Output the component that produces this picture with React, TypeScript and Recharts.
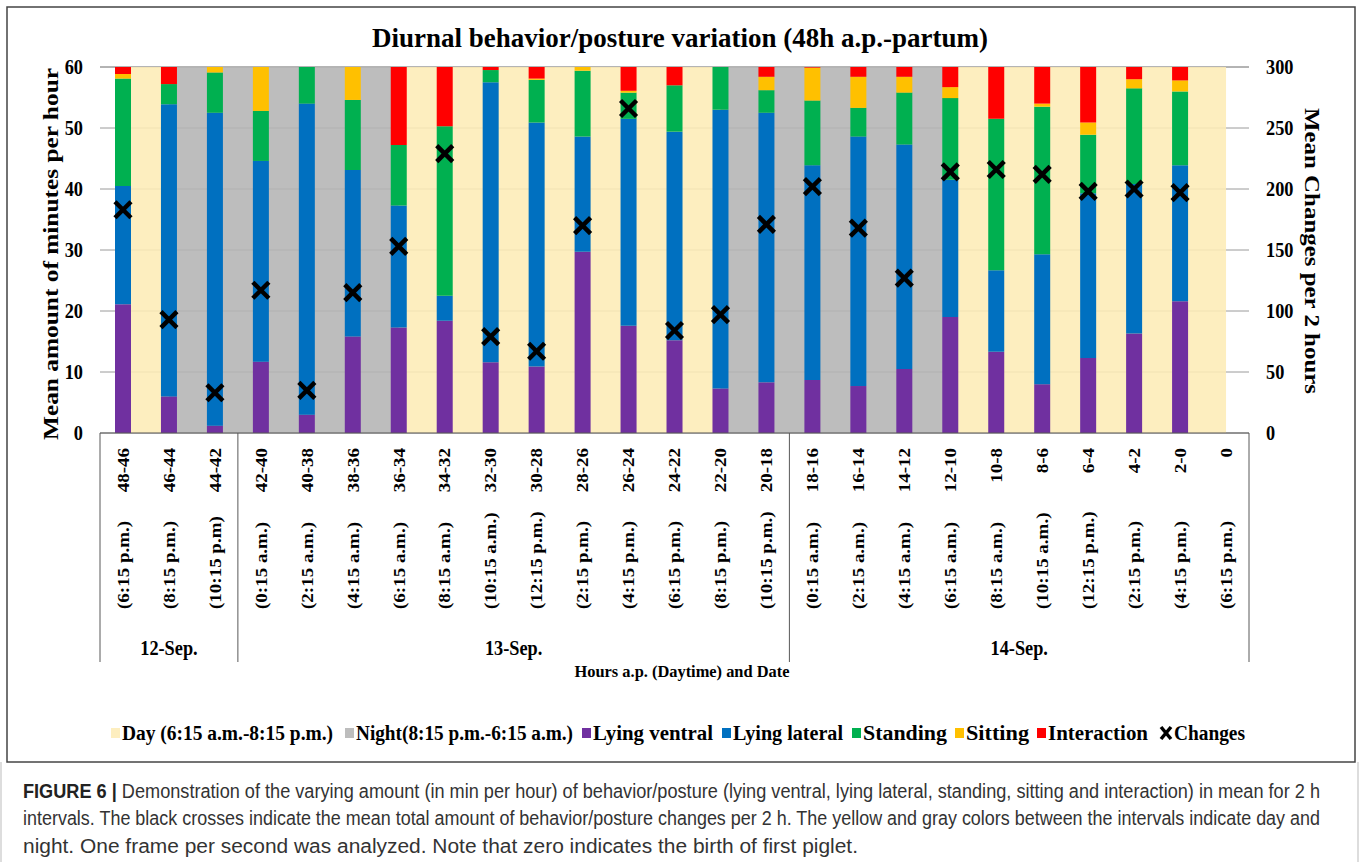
import React from 'react';
import {
  ComposedChart, Bar, Line, XAxis, YAxis, ReferenceArea, CartesianGrid,
} from 'recharts';

// 2h intervals before farrowing (last one = birth of first piglet)
const ranges = ['48-46', '46-44', '44-42', '42-40', '40-38', '38-36', '36-34', '34-32', '32-30', '30-28', '28-26', '26-24', '24-22', '22-20', '20-18', '18-16', '16-14', '14-12', '12-10', '10-8', '8-6', '6-4', '4-2', '2-0', '0'];
const times = ['(6:15 p.m.)', '(8:15 p.m.)', '(10:15 p.m)', '(0:15 a.m.)', '(2:15 a.m.)', '(4:15 a.m.)', '(6:15 a.m.)', '(8:15 a.m.)', '(10:15 a.m.)', '(12:15 p.m.)', '(2:15 p.m.)', '(4:15 p.m.)', '(6:15 p.m.)', '(8:15 p.m.)', '(10:15 p.m.)', '(0:15 a.m.)', '(2:15 a.m.)', '(4:15 a.m.)', '(6:15 a.m.)', '(8:15 a.m.)', '(10:15 a.m.)', '(12:15 p.m.)', '(2:15 p.m.)', '(4:15 p.m.)', '(6:15 p.m.)'];
const dates = ['12-Sep.', '13-Sep.', '14-Sep.'];
const dateCounts = [3, 12, 10];

const lyingVentral = [21.1, 6.0, 1.2, 11.7, 3.0, 15.8, 17.3, 18.4, 11.6, 10.9, 29.7, 17.6, 15.2, 7.3, 8.3, 8.7, 7.7, 10.5, 19.0, 13.3, 8.0, 12.3, 16.3, 21.6, null];
const lyingLateral = [19.4, 47.9, 51.3, 32.9, 51.0, 27.3, 20.0, 4.1, 45.9, 40.0, 18.9, 33.9, 34.2, 45.7, 44.2, 35.2, 40.9, 36.8, 22.5, 13.4, 21.3, 27.0, 24.5, 22.3, null];
const standing = [17.6, 3.3, 6.6, 8.2, 6.0, 11.5, 9.9, 27.8, 2.0, 7.0, 10.8, 4.3, 7.6, 7.0, 3.7, 10.6, 4.7, 8.5, 13.4, 24.8, 24.2, 9.6, 15.7, 12.1, null];
const sitting = [0.75, 0, 0.9, 7.2, 0, 5.4, 0, 0, 0, 0.2, 0.6, 0.3, 0, 0, 2.2, 5.4, 5.1, 2.6, 1.8, 0, 0.5, 2.0, 1.5, 1.8, null];
const interaction = [1.15, 2.8, 0, 0, 0, 0, 12.8, 9.7, 0.5, 1.9, 0, 3.9, 3.0, 0, 1.6, 0.1, 1.6, 1.6, 3.3, 8.5, 6.0, 9.1, 2.0, 2.2, null];
const changes = [183, 93, 33, 117, 35, 115, 153, 229, 79, 67, 170, 266, 84, 97, 171, 202, 168, 127, 214, 216, 212, 198, 200, 197, null];

// day / night shading for the span between two neighbouring intervals
const dayNight = ['day', 'night', 'night', 'night', 'night', 'night', 'day', 'day', 'day', 'day', 'day', 'day', 'day', 'night', 'night', 'night', 'night', 'night', 'day', 'day', 'day', 'day', 'day', 'day'];

const leftTicks = [0, 10, 20, 30, 40, 50, 60];
const rightTicks = [0, 50, 100, 150, 200, 250, 300];

const COLORS = {
  day: '#FDEEBF',
  night: '#BDBDBD',
  ventral: '#7030A0',
  lateral: '#0070C0',
  standing: '#00B050',
  sitting: '#FFC000',
  interaction: '#FF0000',
};
// shading is slightly see-through so the gridlines show faintly, like the original
const BAND_FILL = { day: '#FDECB6', night: '#B4B4B4' };
const BAND_OPACITY = 0.88;

const data = ranges.map((r, i) => ({
  idx: i,
  range: r,
  ventral: lyingVentral[i],
  lateral: lyingLateral[i],
  standing: standing[i],
  sitting: sitting[i],
  interaction: interaction[i],
  changes: changes[i],
}));

const CHART_W = 1360;
const CHART_H = 700;
const MARGIN = { top: 67, right: 81, bottom: 37, left: 70 };
const Y_AXIS_W = 30;
const X_AXIS_H = 230;
const PLOT_LEFT = MARGIN.left + Y_AXIS_W;
const PLOT_RIGHT = CHART_W - MARGIN.right - Y_AXIS_W;
const PLOT_BOTTOM = CHART_H - MARGIN.bottom - X_AXIS_H;
const BAND = (PLOT_RIGHT - PLOT_LEFT) / ranges.length;
const SERIF = '"Liberation Serif", "Times New Roman", serif';
const SANS = '"Liberation Sans", Arial, sans-serif';
const SQUISH = 0.87;

const groupStarts = dateCounts.map((_, g) => dateCounts.slice(0, g).reduce((a, b) => a + b, 0));

const XTick = (props: any) => {
  const { x, payload } = props;
  const i = props.index ?? payload.index;
  const g = groupStarts.indexOf(i);
  const boxBottom = PLOT_BOTTOM + 229;
  return (
    <g>
      <text
        transform={`translate(${x},${PLOT_BOTTOM + 15}) scale(${SQUISH},1) rotate(-90)`}
        textAnchor="end" dy="0.35em" fontFamily={SERIF} fontWeight="bold" fontSize={19} fill="#000"
      >{ranges[i]}</text>
      <text
        transform={`translate(${x},${PLOT_BOTTOM + 176}) scale(${SQUISH},1) rotate(-90)`}
        textAnchor="start" dy="0.35em" fontFamily={SERIF} fontWeight="bold" fontSize={19} fill="#000"
      >{times[i]}</text>
      {g >= 0 && (
        <>
          <line x1={x - BAND / 2} x2={x - BAND / 2} y1={PLOT_BOTTOM} y2={boxBottom} stroke="#595959" strokeWidth={1} />
          <text
            transform={`translate(${x - BAND / 2 + (dateCounts[g] * BAND) / 2},${PLOT_BOTTOM + 222}) scale(${SQUISH},1)`}
            textAnchor="middle" fontFamily={SERIF} fontWeight="bold" fontSize={21} fill="#000"
          >{dates[g]}</text>
        </>
      )}
      {i === ranges.length - 1 && (
        <line x1={x + BAND / 2} x2={x + BAND / 2} y1={PLOT_BOTTOM} y2={boxBottom} stroke="#595959" strokeWidth={1} />
      )}
    </g>
  );
};

const YTick = (props: any) => {
  const { x, y, payload, anchor } = props;
  return (
    <text
      transform={`translate(${x},${y}) scale(${SQUISH},1)`}
      textAnchor={anchor} dy="0.35em" fontFamily={SERIF} fontWeight="bold" fontSize={21} fill="#000"
    >{payload.value}</text>
  );
};

const Cross = (props: any) => {
  const { cx, cy, index } = props;
  if (cy == null || Number.isNaN(cy)) return <g key={`c-${index}`} />;
  const s = 8;
  return (
    <g key={`c-${index}`}>
      <line x1={cx - s} y1={cy - s} x2={cx + s} y2={cy + s} stroke="#000" strokeWidth={4.5} />
      <line x1={cx - s} y1={cy + s} x2={cx + s} y2={cy - s} stroke="#000" strokeWidth={4.5} />
    </g>
  );
};

const legendItems = [
  { label: 'Day (6:15 a.m.-8:15 p.m.)', color: COLORS.day, x: 111, w: 211 },
  { label: 'Night(8:15 p.m.-6:15 a.m.)', color: COLORS.night, x: 345, w: 217 },
  { label: 'Lying ventral', color: COLORS.ventral, x: 582, w: 120 },
  { label: 'Lying lateral', color: COLORS.lateral, x: 722, w: 110 },
  { label: 'Standing', color: COLORS.standing, x: 852, w: 84 },
  { label: 'Sitting', color: COLORS.sitting, x: 955, w: 63 },
  { label: 'Interaction', color: COLORS.interaction, x: 1037, w: 100 },
];

const captionLines = [
  'Demonstration of the varying amount (in min per hour) of behavior/posture (lying ventral, lying lateral, standing, sitting and interaction) in mean for 2 h',
  'intervals. The black crosses indicate the mean total amount of behavior/posture changes per 2 h. The yellow and gray colors between the intervals indicate day and',
  'night. One frame per second was analyzed. Note that zero indicates the birth of first piglet.',
];

export default function App() {
  return (
    <div style={{ position: 'absolute', left: 0, top: 0, width: 1360, height: 862, background: '#fff', overflow: 'hidden' }}>
      <div style={{ position: 'absolute', left: 0, top: 0 }}>
        <ComposedChart width={CHART_W} height={CHART_H} data={data} margin={MARGIN}>
          <CartesianGrid yAxisId="left" vertical={false} stroke="#9a9a9a" strokeWidth={1} />
          <XAxis
            dataKey="range"
            interval={0}
            height={X_AXIS_H}
            tickLine={false}
            tickSize={0}
            axisLine={{ stroke: '#595959', strokeWidth: 1 }}
            tick={<XTick />}
          />
          <XAxis xAxisId="bg" type="number" dataKey="idx" domain={[-0.5, ranges.length - 0.5]} hide />
          <YAxis
            yAxisId="left"
            domain={[0, 60]}
            ticks={leftTicks}
            width={Y_AXIS_W}
            axisLine={false}
            tickLine={false}
            tickSize={0}
            tickMargin={17}
            tick={<YTick anchor="end" />}
          />
          <YAxis
            yAxisId="right"
            orientation="right"
            domain={[0, 300]}
            ticks={rightTicks}
            width={Y_AXIS_W}
            axisLine={false}
            tickLine={false}
            tickSize={0}
            tickMargin={17}
            tick={<YTick anchor="start" />}
          />
          {dayNight.map((dn, i) => (
            <ReferenceArea
              key={`bg-${i}`}
              xAxisId="bg"
              yAxisId="left"
              x1={i}
              x2={i + 1}
              y1={0}
              y2={60}
              fill={dn === 'day' ? BAND_FILL.day : BAND_FILL.night}
              fillOpacity={BAND_OPACITY}
              stroke="none"
            />
          ))}
          <Bar dataKey="ventral" name="Lying ventral" stackId="a" yAxisId="left" fill={COLORS.ventral} barSize={16} isAnimationActive={false} />
          <Bar dataKey="lateral" name="Lying lateral" stackId="a" yAxisId="left" fill={COLORS.lateral} barSize={16} isAnimationActive={false} />
          <Bar dataKey="standing" name="Standing" stackId="a" yAxisId="left" fill={COLORS.standing} barSize={16} isAnimationActive={false} />
          <Bar dataKey="sitting" name="Sitting" stackId="a" yAxisId="left" fill={COLORS.sitting} barSize={16} isAnimationActive={false} />
          <Bar dataKey="interaction" name="Interaction" stackId="a" yAxisId="left" fill={COLORS.interaction} barSize={16} isAnimationActive={false} />
          <Line
            dataKey="changes"
            name="Changes"
            yAxisId="right"
            stroke="none"
            dot={(p: any) => <Cross {...p} />}
            activeDot={false}
            isAnimationActive={false}
          />
        </ComposedChart>
      </div>

      <svg width={1360} height={862} style={{ position: 'absolute', left: 0, top: 0, pointerEvents: 'none' }}>
        <rect x={7} y={7} width={1348} height={755} fill="none" stroke="#444" strokeWidth={1.5} />
        <line x1={1} y1={762} x2={1} y2={862} stroke="#bbb" />
        <line x1={1358} y1={762} x2={1358} y2={862} stroke="#bbb" />

        <text x={680} y={47} textAnchor="middle" fontFamily={SERIF} fontWeight="bold" fontSize={28}
          textLength={616} lengthAdjust="spacingAndGlyphs">Diurnal behavior/posture variation (48h a.p.-partum)</text>

        <text transform="translate(50,254) rotate(-90)" textAnchor="middle" dy="0.35em" fontFamily={SERIF}
          fontWeight="bold" fontSize={22} textLength={372} lengthAdjust="spacingAndGlyphs">Mean amount of minutes per hour</text>
        <text transform="translate(1313,251) rotate(90)" textAnchor="middle" dy="0.35em" fontFamily={SERIF}
          fontWeight="bold" fontSize={22} textLength={286} lengthAdjust="spacingAndGlyphs">Mean Changes per 2 hours</text>

        <text x={682} y={677} textAnchor="middle" fontFamily={SERIF} fontWeight="bold" fontSize={17}
          textLength={215} lengthAdjust="spacingAndGlyphs">Hours a.p. (Daytime) and Date</text>

        {legendItems.map((it) => (
          <g key={it.label}>
            <rect x={it.x} y={728} width={9} height={10} fill={it.color} />
            <text x={it.x + 11} y={740} fontFamily={SERIF} fontWeight="bold" fontSize={20}
              textLength={it.w} lengthAdjust="spacingAndGlyphs">{it.label}</text>
          </g>
        ))}
        <g>
          <line x1={1161} y1={727} x2={1171} y2={739} stroke="#000" strokeWidth={3.5} />
          <line x1={1161} y1={739} x2={1171} y2={727} stroke="#000" strokeWidth={3.5} />
          <text x={1174} y={740} fontFamily={SERIF} fontWeight="bold" fontSize={20}
            textLength={71} lengthAdjust="spacingAndGlyphs">Changes</text>
        </g>

        <text transform="translate(23,798) scale(1,1.15)" fontFamily={SANS} fontSize={17} fill="#333"
          textLength={1297} lengthAdjust="spacingAndGlyphs">
          <tspan fontWeight="bold" fill="#222">FIGURE 6 | </tspan>{captionLines[0]}
        </text>
        <text transform="translate(23,825) scale(1,1.15)" fontFamily={SANS} fontSize={17} fill="#333"
          textLength={1297} lengthAdjust="spacingAndGlyphs">{captionLines[1]}</text>
        <text transform="translate(23,853) scale(1,1.15)" fontFamily={SANS} fontSize={17} fill="#333"
          textLength={835} lengthAdjust="spacingAndGlyphs">{captionLines[2]}</text>
      </svg>
    </div>
  );
}
